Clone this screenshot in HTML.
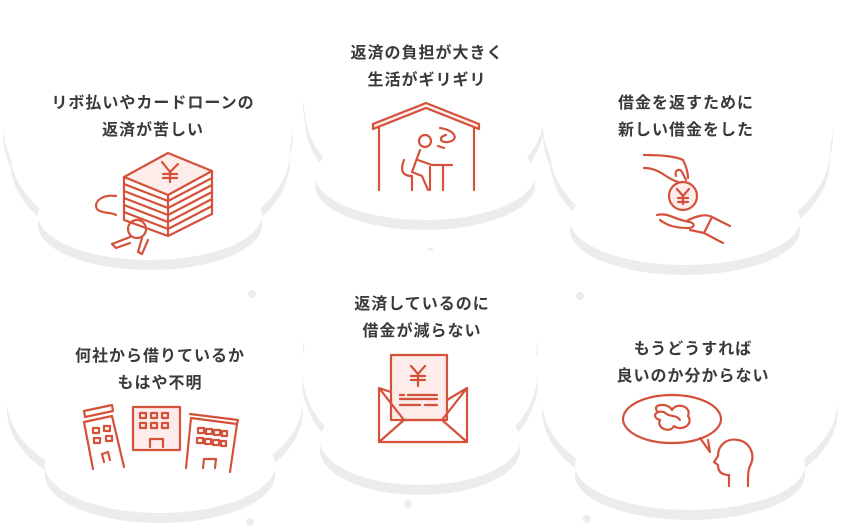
<!DOCTYPE html>
<html><head><meta charset="utf-8"><style>
html,body{margin:0;padding:0;background:#fff;width:843px;height:529px;overflow:hidden}
svg{display:block}
text{font-family:"Liberation Sans","Noto Sans CJK JP",sans-serif;font-weight:bold;font-size:16px;fill:#3a3a3a;text-anchor:middle;letter-spacing:1px}
.l{fill:none;stroke:#d4513a;stroke-width:2.2;stroke-linecap:round;stroke-linejoin:round}
.f{fill:#fdecea;stroke:#d4513a;stroke-width:2.2;stroke-linejoin:round}
</style></head><body>
<svg width="843" height="529" viewBox="0 0 843 529" xmlns="http://www.w3.org/2000/svg">
<defs>
<g id="c1"><ellipse cx="150" cy="150" rx="140" ry="95"/><ellipse cx="150" cy="215" rx="112" ry="45"/><ellipse cx="75" cy="125" rx="72" ry="72"/><ellipse cx="225" cy="125" rx="68" ry="72"/><ellipse cx="150" cy="85" rx="90" ry="55"/></g>
<g id="c2"><ellipse cx="425" cy="110" rx="120" ry="90"/><ellipse cx="425" cy="175" rx="110" ry="45"/><ellipse cx="365" cy="95" rx="62" ry="72"/><ellipse cx="485" cy="95" rx="62" ry="72"/><ellipse cx="425" cy="60" rx="80" ry="55"/></g>
<g id="c3"><ellipse cx="690" cy="150" rx="140" ry="95"/><ellipse cx="685" cy="220" rx="115" ry="45"/><ellipse cx="615" cy="125" rx="72" ry="72"/><ellipse cx="765" cy="125" rx="68" ry="72"/><ellipse cx="690" cy="85" rx="90" ry="55"/></g>
<g id="c4"><ellipse cx="155" cy="400" rx="148" ry="90"/><ellipse cx="160" cy="465" rx="115" ry="48"/><ellipse cx="80" cy="385" rx="72" ry="76"/><ellipse cx="230" cy="385" rx="68" ry="76"/><ellipse cx="155" cy="340" rx="90" ry="55"/></g>
<g id="c5"><ellipse cx="420" cy="370" rx="118" ry="95"/><ellipse cx="420" cy="440" rx="100" ry="45"/><ellipse cx="365" cy="335" rx="62" ry="72"/><ellipse cx="480" cy="335" rx="58" ry="72"/><ellipse cx="420" cy="300" rx="80" ry="50"/></g>
<g id="c6"><ellipse cx="690" cy="400" rx="148" ry="92"/><ellipse cx="690" cy="465" rx="115" ry="45"/><ellipse cx="615" cy="385" rx="72" ry="76"/><ellipse cx="765" cy="385" rx="72" ry="76"/><ellipse cx="690" cy="335" rx="90" ry="55"/></g>
</defs>
<g fill="#ececec">
<use href="#c1" transform="translate(0,10)"/><use href="#c2" transform="translate(0,10)"/><use href="#c3" transform="translate(0,10)"/>
<circle cx="252" cy="294" r="4"/><circle cx="430" cy="252" r="4"/><circle cx="580" cy="296" r="4"/>
</g>
<g fill="#fff"><use href="#c1"/><use href="#c2"/><use href="#c3"/></g>
<g fill="#ececec">
<use href="#c4" transform="translate(0,10)"/><use href="#c5" transform="translate(0,10)"/><use href="#c6" transform="translate(0,10)"/>
<circle cx="250" cy="522" r="4"/><circle cx="408" cy="504" r="4"/><circle cx="587" cy="519" r="4"/>
</g>
<g fill="#fff"><use href="#c4"/><use href="#c5"/><use href="#c6"/></g>

<text x="153" y="108">リボ払いやカードローンの</text><text x="153" y="135">返済が苦しい</text>
<text x="427" y="58">返済の負担が大きく</text><text x="427" y="85">生活がギリギリ</text>
<text x="686" y="108">借金を返すために</text><text x="686" y="135">新しい借金をした</text>
<text x="160" y="361">何社から借りているか</text><text x="160" y="388">もはや不明</text>
<text x="422" y="309">返済しているのに</text><text x="422" y="336">借金が減らない</text>
<text x="693" y="354">もうどうすれば</text><text x="693" y="381">良いのか分からない</text>

<!-- icon1 stack -->
<path class="f" d="M124 177 L168 153 L212 171 L168 195 Z"/>
<path class="l" d="M124 177 V220 L168 236 V195 M168 236 L212 214 V171"/>
<path class="l" d="M124 184 L168 201 L212 178 M124 191 L168 208 L212 185 M124 198 L168 215 L212 192 M124 205 L168 222 L212 199 M124 212 L168 229 L212 206"/>
<path class="l" d="M162 162 L170 172 L178 164 M170 172 V182 M163 174 H177 M163 178 H177"/>
<circle class="l" cx="137" cy="229" r="9" fill="#fff"/>
<path class="l" d="M130 237 L112 244 L116 248 L130 243 M142 238 L138 252 L142 254 L148 240"/>
<path class="l" d="M116 196 C100 194 92 204 98 210 C104 214 112 212 116 215"/>
<!-- icon2 house -->
<path class="f" d="M373 124 L426 103 L479 124 V129 L426 108 L373 129 Z"/>
<path class="l" d="M379 128 V190 M474 128 V190"/>
<circle class="l" cx="425" cy="141" r="6"/>
<path class="l" d="M420 150 L412 172 L422 176 L428 190 M418 160 L432 165 H441 M430 167 V190 M432 165 H452 M443 165 V190 M404 160 C400 170 402 176 412 176 V190"/>
<path class="l" d="M440 128 C455 130 460 140 448 142 C440 143 438 137 446 135 M438 146 L444 148"/>
<!-- icon3 hands -->
<circle class="f" cx="683" cy="196" r="14"/>
<path class="l" d="M677 189 L683 196 L689 189 M683 196 V204 M678 198 H688 M678 202 H688"/>
<path class="l" d="M644 155 C660 155 675 156 683 160 C686 166 688 172 688 178 M644 168 C654 168 660 172 666 176 C672 180 678 182 678 182 M676 176 C674 170 680 168 682 172 L686 180"/>
<path class="l" d="M657 215 C668 212 675 220 690 222 C696 224 694 228 688 228 C676 228 668 226 660 220 M688 220 C695 217 705 213 712 217 L730 226 M712 217 L704 233 L723 243 M690 230 L704 233"/>
<!-- icon4 buildings -->
<path class="f" d="M133 407 H180 V450 H133 Z" />
<path class="l" d="M140 413 h6 v5 h-6z M151 413 h6 v5 h-6z M162 413 h6 v5 h-6z M140 423 h6 v5 h-6z M151 423 h6 v5 h-6z M162 423 h6 v5 h-6z M150 447 V439 H163 V447"/>
<path class="l" d="M84 422 L112 416 L124 467 M84 422 L93 469 M85 417 L113 411 L112 405 L84 411 Z M93 428 h6 v5 h-6z M104 426 h6 v5 h-6z M94 438 h6 v5 h-6z M106 436 h6 v5 h-6z M104 462 L102 454 L108 452 L110 460"/>
<path class="l" d="M191 418 L237 424 L230 472 M191 418 L186 468 M190 414 L238 420 L237 424 M198 428 h6 v5 h-6z M206 429 h6 v5 h-6z M214 430 h6 v5 h-6z M222 431 h5 v5 h-5z M197 438 h6 v5 h-6z M205 439 h6 v5 h-6z M213 440 h6 v5 h-6z M221 441 h5 v5 h-5z M203 468 L204 459 H216 L215 468"/>
<!-- icon5 envelope -->
<path class="f" d="M391 355 H447 V420 H391 Z"/>
<path class="l" d="M411 366 L418 374 L425 366 M418 374 V386 M411 376 H425 M411 380 H425 M400 395 H404 M408 395 H437 M400 399 H437 M400 405 H420 M425 405 H437"/>
<path class="l" d="M379 388 V442 H467 V388 M379 388 L391 392 M467 388 L447 400 M379 388 L404 420 H442 L467 388 M379 442 L404 420 M467 442 L442 420"/>
<!-- icon6 bubble and head -->
<ellipse class="l" cx="672" cy="419" rx="49" ry="24"/>
<path class="l" d="M700 438 L710 452 L708 440" fill="#fff"/>
<path class="l" d="M658 412 C650 404 668 402 672 410 C676 402 692 406 688 416 C694 424 682 432 674 426 C670 434 656 428 660 420 C652 418 654 410 664 412 C670 418 676 414 680 420"/>
<path class="l" d="M729 486 V475 C720 475 718 470 718 465 L714 462 L718 456 C718 444 728 438 738 440 C750 442 756 455 750 466 C748 470 748 476 748 486"/>
</svg>
</body></html>
